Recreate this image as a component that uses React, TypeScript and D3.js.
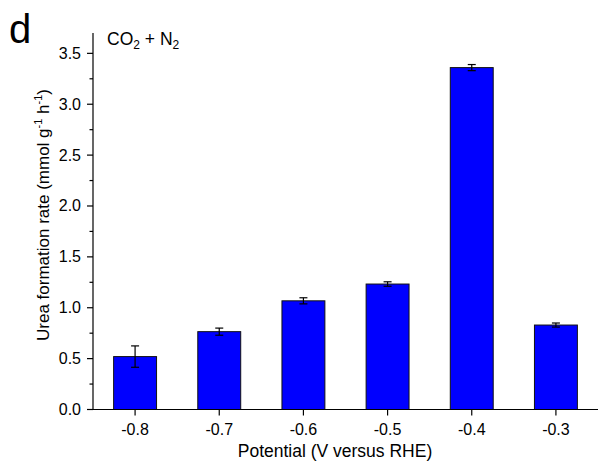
import React from "react";
import * as d3 from "d3";

const categories = ["-0.8", "-0.7", "-0.6", "-0.5", "-0.4", "-0.3"];
const values = [0.52, 0.765, 1.068, 1.233, 3.36, 0.83];
const errors = [0.105, 0.035, 0.03, 0.022, 0.03, 0.02];
const yTicks = [0, 0.5, 1.0, 1.5, 2.0, 2.5, 3.0, 3.5];
const yMinorTicks = [0.25, 0.75, 1.25, 1.75, 2.25, 2.75, 3.25];

const W = 600, H = 462;
const left = 93, right = 598, top = 33, bottom = 409.5;

export default function App() {
  const x = d3.scaleBand<string>().domain(categories).range([left, right]).padding(0);
  const y = d3.scaleLinear().domain([0, 3.7]).range([bottom, top]);
  const bw = x.bandwidth() * 0.51;
  const font = "Liberation Sans, Arial, sans-serif";
  return (
    <svg width={W} height={H} style={{ position: "absolute", left: 0, top: 0 }} fontFamily={font}>
      <rect width={W} height={H} fill="#fff" />
      {categories.map((c, i) => {
        const cx = x(c)! + x.bandwidth() / 2;
        return (
          <g key={c}>
            <rect x={cx - bw / 2} y={y(values[i])} width={bw} height={y(0) - y(values[i])}
              fill="#0000ff" stroke="#111" strokeWidth={1} />
            <line x1={cx} x2={cx} y1={y(values[i] + errors[i])} y2={y(values[i] - errors[i])} stroke="#000" strokeWidth={1.2} />
            <line x1={cx - 4} x2={cx + 4} y1={y(values[i] + errors[i])} y2={y(values[i] + errors[i])} stroke="#000" strokeWidth={1.2} />
            <line x1={cx - 4} x2={cx + 4} y1={y(values[i] - errors[i])} y2={y(values[i] - errors[i])} stroke="#000" strokeWidth={1.2} />
            <line x1={cx} x2={cx} y1={bottom} y2={bottom + 6} stroke="#000" strokeWidth={1.2} />
            <text x={cx} y={435} textAnchor="middle" fontSize={16} fill="#000">{c}</text>
          </g>
        );
      })}
      {/* axes */}
      <line x1={left} x2={left} y1={top} y2={bottom} stroke="#000" strokeWidth={1.2} />
      <line x1={left} x2={right} y1={bottom} y2={bottom} stroke="#000" strokeWidth={1.2} />
      {yTicks.map((t) => (
        <g key={t}>
          <line x1={left - 6} x2={left} y1={y(t)} y2={y(t)} stroke="#000" strokeWidth={1.2} />
          <text x={left - 12} y={y(t) + 5.5} textAnchor="end" fontSize={16} fill="#000">{t.toFixed(1)}</text>
        </g>
      ))}
      {yMinorTicks.map((t) => (
        <line key={t} x1={left - 3.5} x2={left} y1={y(t)} y2={y(t)} stroke="#000" strokeWidth={1.2} />
      ))}
      <text x={335} y={457} textAnchor="middle" fontSize={17.5} fill="#000">Potential (V versus RHE)</text>
      <text transform={`translate(49,215) rotate(-90)`} textAnchor="middle" fontSize={17} fill="#000">
        Urea formation rate (mmol g<tspan dy={-7} fontSize={11}>-1</tspan><tspan dy={7}> h</tspan><tspan dy={-7} fontSize={11}>-1</tspan><tspan dy={7}>)</tspan>
      </text>
      <text x={107} y={45} fontSize={17.5} fill="#000">
        CO<tspan dy={4} fontSize={12}>2</tspan><tspan dy={-4}> + N</tspan><tspan dy={4} fontSize={12}>2</tspan>
      </text>
      <text x={9} y={43} fontSize={40} fill="#000">d</text>
    </svg>
  );
}
